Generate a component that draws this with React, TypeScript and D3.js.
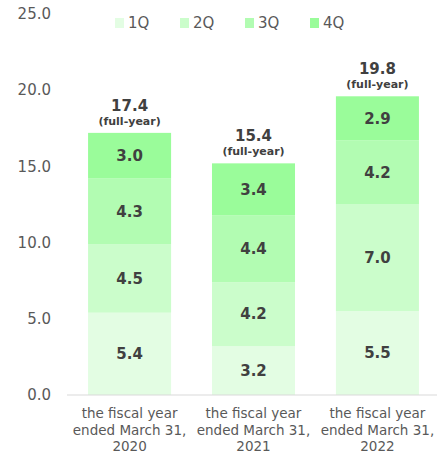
import React, { useEffect, useRef } from 'react';
import * as d3 from 'd3';

const years = ['2020', '2021', '2022'];
const quarters = ['1Q', '2Q', '3Q', '4Q'];
const q1 = [5.4, 3.2, 5.5];
const q2 = [4.5, 4.2, 7.0];
const q3 = [4.3, 4.4, 4.2];
const q4 = [3.0, 3.4, 2.9];
const totals = [17.4, 15.4, 19.8];
const yTicks = [0, 5, 10, 15, 20, 25];
const colors = ['#e3fde3', '#cbfdcb', '#b2fcb2', '#9afc9a'];

const W = 437;
const H = 454;
const FONT = '"DejaVu Sans", Verdana, sans-serif';

export default function App() {
  const svgRef = useRef<SVGSVGElement>(null);

  useEffect(() => {
    if (!svgRef.current) return;
    const svg = d3.select(svgRef.current);
    svg.selectAll('*').remove();

    const series = [q1, q2, q3, q4];
    const rows = years.map((yr, i) => {
      const r: any = { year: yr };
      quarters.forEach((q, k) => (r[q] = series[k][i]));
      return r;
    });

    const x = d3.scaleBand().domain(years).range([67, 440]).paddingInner(0.33).paddingOuter(0.17);
    const y = d3.scaleLinear().domain([0, 25]).range([395, 14]);

    // y-axis labels
    svg.append('g')
      .selectAll('text')
      .data(yTicks)
      .enter()
      .append('text')
      .attr('x', 51)
      .attr('y', d => y(d))
      .attr('dy', '0.35em')
      .attr('text-anchor', 'end')
      .attr('fill', '#595959')
      .style('font-size', '15px')
      .text(d => d.toFixed(1));

    const stacked = d3.stack<any>().keys(quarters)(rows);

    const layers = svg.append('g')
      .selectAll('g')
      .data(stacked)
      .enter()
      .append('g')
      .attr('fill', (_, i) => colors[i]);

    layers.selectAll('rect')
      .data(d => d)
      .enter()
      .append('rect')
      .attr('x', d => x(d.data.year) || 0)
      .attr('y', d => y(d[1]))
      .attr('width', x.bandwidth())
      .attr('height', d => y(d[0]) - y(d[1]));

    layers.selectAll('text')
      .data(d => d)
      .enter()
      .append('text')
      .attr('x', d => (x(d.data.year) || 0) + x.bandwidth() / 2)
      .attr('y', d => y((d[0] + d[1]) / 2))
      .attr('dy', '0.35em')
      .attr('text-anchor', 'middle')
      .attr('fill', '#404040')
      .style('font-size', '15px')
      .style('font-weight', 'bold')
      .text(d => (d[1] - d[0]).toFixed(1));

    // baseline
    svg.append('line')
      .attr('x1', 67)
      .attr('x2', 437)
      .attr('y1', y(0))
      .attr('y2', y(0))
      .attr('stroke', '#d9d9d9')
      .attr('stroke-width', 1);

    // totals
    const top = stacked[stacked.length - 1];
    const tot = svg.append('g')
      .selectAll('g')
      .data(top)
      .enter()
      .append('g')
      .attr('transform', d => `translate(${(x(d.data.year) || 0) + x.bandwidth() / 2},${y(d[1])})`);
    tot.append('text')
      .attr('y', -22)
      .attr('text-anchor', 'middle')
      .attr('fill', '#404040')
      .style('font-size', '15px')
      .style('font-weight', 'bold')
      .text((_, i) => totals[i].toFixed(1));
    tot.append('text')
      .attr('y', -8)
      .attr('text-anchor', 'middle')
      .attr('fill', '#404040')
      .style('font-size', '11px')
      .style('font-weight', 'bold')
      .text('(full-year)');

    // category labels
    const cat = svg.append('g')
      .selectAll('text')
      .data(years)
      .enter()
      .append('text')
      .attr('x', d => (x(d) || 0) + x.bandwidth() / 2)
      .attr('y', 418)
      .attr('text-anchor', 'middle')
      .attr('fill', '#595959')
      .style('font-size', '13.5px');
    cat.append('tspan').attr('x', d => (x(d) || 0) + x.bandwidth() / 2).text('the fiscal year');
    cat.append('tspan').attr('x', d => (x(d) || 0) + x.bandwidth() / 2).attr('dy', 16.5).text('ended March 31,');
    cat.append('tspan').attr('x', d => (x(d) || 0) + x.bandwidth() / 2).attr('dy', 16.5).text(d => d);

    // legend
    const legend = svg.append('g')
      .selectAll('g')
      .data(quarters)
      .enter()
      .append('g')
      .attr('transform', (_, i) => `translate(${115 + i * 65},18)`);
    legend.append('rect')
      .attr('width', 9)
      .attr('height', 10)
      .attr('fill', (_, i) => colors[i]);
    legend.append('text')
      .attr('x', 13)
      .attr('y', 5)
      .attr('dy', '0.35em')
      .attr('fill', '#595959')
      .style('font-size', '15px')
      .text(d => d);
  }, []);

  return (
    <svg
      ref={svgRef}
      width={W}
      height={H}
      style={{ position: 'absolute', left: 0, top: 0, fontFamily: FONT, background: '#fff' }}
    />
  );
}
